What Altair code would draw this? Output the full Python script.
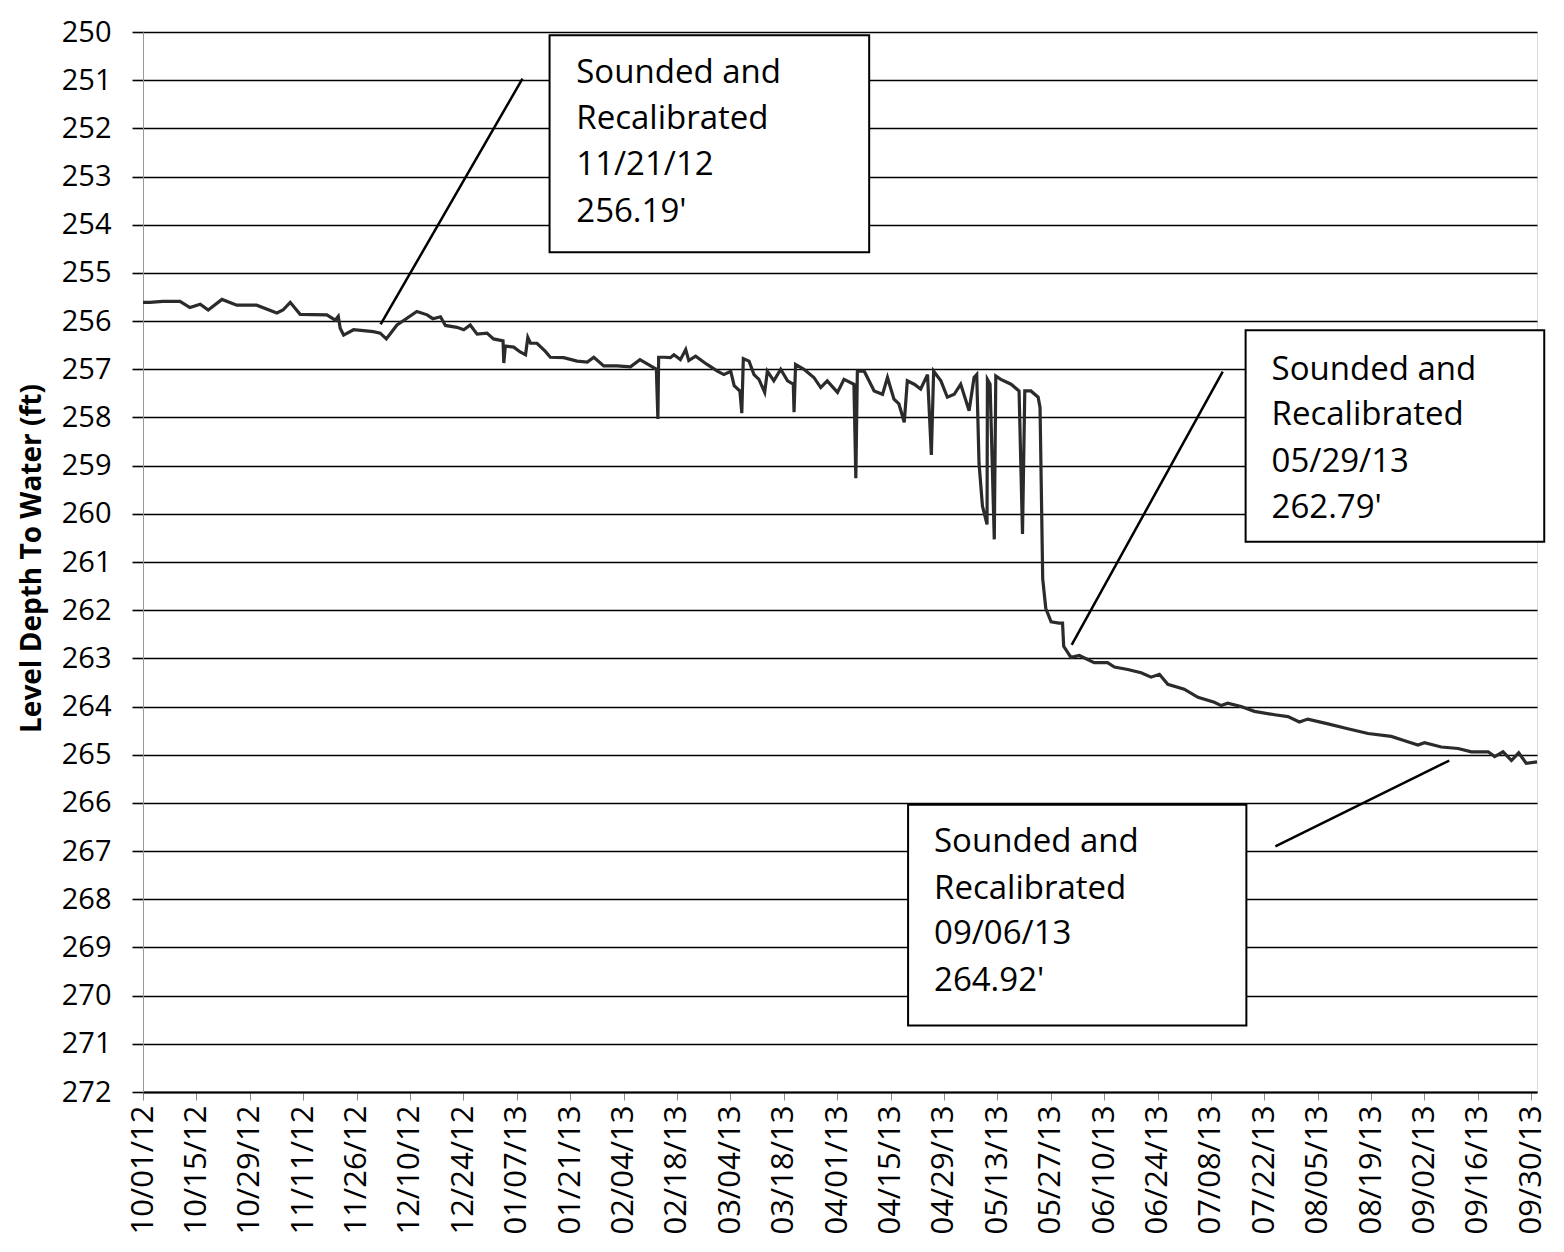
import json
import altair as alt
import pandas as pd

# ---- series: days since 10/01/12 and level depth to water (ft) ----
days = [0.0, 1.8, 5.2, 9.7, 12.3, 15.0, 17.1, 20.7, 24.6, 29.8, 35.1, 36.7, 38.6, 41.2, 48.2,
        50.4, 51.2, 51.7, 52.6, 55.2, 60.4, 62.2, 63.8, 66.6, 69.2, 71.8, 74.5, 76.0, 78.0,
        79.3, 82.3, 84.1, 85.8, 87.6, 90.2, 91.9, 94.4, 94.6, 95.0, 97.2, 98.9, 100.3, 100.9,
        101.6, 103.3, 105.5, 106.8, 110.3, 113.8, 116.5, 118.2, 120.8, 124.3, 127.8, 130.3,
        133.1, 134.6, 135.0, 135.2, 136.6, 138.3, 139.2, 140.9, 142.3, 143.1, 144.9, 147.9,
        150.6, 152.3, 154.1, 155.0, 156.5, 157.0, 157.4, 158.9, 160.2, 161.5, 163.0, 163.7,
        165.4, 167.2, 169.0, 170.5, 170.7, 171.1, 173.3, 175.9, 177.7, 179.4, 182.1, 183.8,
        186.4, 186.9, 187.3, 189.1, 191.7, 193.9, 195.2, 196.9, 198.2, 199.6, 200.4, 202.2,
        203.9, 205.7, 206.7, 207.3, 209.2, 210.9, 212.7, 214.4, 216.6, 217.9, 218.6, 219.2,
        220.1, 221.3, 221.4, 222.1, 223.2, 223.6, 224.9, 227.6, 229.7, 230.6, 231.2, 232.8,
        234.7, 235.2, 235.9, 236.7, 238.1, 240.2, 241.1, 241.4, 243.3, 245.5, 249.4, 252.9,
        254.7, 258.2, 261.7, 264.3, 266.5, 268.7, 273.0, 276.6, 280.9, 282.7, 284.4, 287.9,
        291.4, 296.7, 300.2, 303.2, 305.4, 310.7, 315.9, 321.2, 327.3, 330.8, 334.3, 336.0,
        340.4, 344.8, 348.3, 352.7, 354.4, 356.6, 358.8, 360.7, 362.7, 365.5]
levels = [255.61, 255.61, 255.59, 255.59, 255.72, 255.65, 255.77, 255.55, 255.67, 255.67, 255.83,
          255.77, 255.61, 255.86, 255.87, 255.98, 255.90, 256.15, 256.29, 256.18, 256.22, 256.25,
          256.37, 256.08, 255.94, 255.80, 255.87, 255.95, 255.91, 256.09, 256.13, 256.18, 256.08,
          256.27, 256.25, 256.37, 256.41, 256.87, 256.52, 256.54, 256.64, 256.70, 256.34, 256.46,
          256.46, 256.63, 256.75, 256.76, 256.83, 256.85, 256.75, 256.93, 256.93, 256.95, 256.80,
          256.93, 257.00, 258.03, 256.75, 256.75, 256.76, 256.70, 256.80, 256.59, 256.82, 256.73,
          256.90, 257.04, 257.11, 257.04, 257.34, 257.45, 257.91, 256.78, 256.83, 257.11, 257.21,
          257.48, 257.04, 257.24, 257.00, 257.24, 257.31, 257.89, 256.90, 257.00, 257.17, 257.38,
          257.24, 257.48, 257.21, 257.31, 259.26, 257.04, 257.04, 257.45, 257.52, 257.17, 257.62,
          257.72, 258.10, 257.24, 257.31, 257.41, 257.11, 258.78, 257.04, 257.24, 257.58, 257.52,
          257.31, 257.86, 257.17, 257.11, 258.95, 259.84, 260.22, 257.21, 257.31, 260.53, 257.14,
          257.21, 257.31, 257.45, 260.42, 257.45, 257.45, 257.58, 257.79, 261.35, 261.96, 262.24,
          262.27, 262.27, 262.75, 262.98, 262.94, 263.09, 263.09, 263.18, 263.23, 263.30, 263.39,
          263.33, 263.54, 263.64, 263.81, 263.91, 263.98, 263.93, 264.00, 264.10, 264.17, 264.21,
          264.32, 264.26, 264.36, 264.46, 264.56, 264.62, 264.71, 264.80, 264.75, 264.84, 264.87,
          264.94, 264.94, 265.04, 264.94, 265.12, 264.96, 265.18, 265.15]

tick_days = list(range(0, 365, 14))
tick_labels = ["10/01/12", "10/15/12", "10/29/12", "11/11/12", "11/26/12", "12/10/12", "12/24/12",
               "01/07/13", "01/21/13", "02/04/13", "02/18/13", "03/04/13", "03/18/13", "04/01/13",
               "04/15/13", "04/29/13", "05/13/13", "05/27/13", "06/10/13", "06/24/13", "07/08/13",
               "07/22/13", "08/05/13", "08/19/13", "09/02/13", "09/16/13", "09/30/13"]
y_ticks = list(range(250, 273))

# ---- annotations (data units) ----
box_x = [106.6, 289.1, 200.6]
box_x2 = [190.4, 367.4, 289.3]
box_y = [250.07, 256.19, 266.04]
box_y2 = [254.57, 260.58, 270.62]

note_lines = ["Sounded and", "Recalibrated"]
note_dates = ["11/21/12", "05/29/13", "09/06/13"]
note_levels = ["256.19'", "262.79'", "264.92'"]
note_x = [113.6, 295.9, 207.4]
note_y = [[250.85, 251.80, 252.76, 253.73],
          [257.01, 257.95, 258.92, 259.88],
          [266.82, 267.78, 268.73, 269.69]]

lead_x = [99.5, 283.1, 342.5]
lead_y = [250.97, 257.05, 265.12]
lead_x2 = [62.3, 243.5, 296.9]
lead_y2 = [256.07, 262.72, 266.90]

series = pd.DataFrame({"day": days, "level": levels})
boxes = pd.DataFrame({"x": box_x, "x2": box_x2, "y": box_y, "y2": box_y2})
texts = []
for i in range(3):
    lines = note_lines + [note_dates[i], note_levels[i]]
    for j, t in enumerate(lines):
        texts.append({"x": note_x[i], "y": note_y[i][j], "t": t})
texts = pd.DataFrame(texts)
leads = pd.DataFrame({"x": lead_x, "y": lead_y, "x2": lead_x2, "y2": lead_y2})

FONT = "Open Sans"
label_expr = json.dumps(tick_labels) + "[round(datum.value / 14)]"

xscale = alt.Scale(domain=[0, 365.5], nice=False, zero=False)
yscale = alt.Scale(domain=[250, 272], reverse=True, nice=False, zero=False)

xaxis = alt.Axis(values=tick_days, labelExpr=label_expr, labelAngle=270, labelAlign="right",
                 labelBaseline="middle", labelFontSize=31, labelFont=FONT, labelColor="black",
                 labelPadding=5, labelOverlap=False, labelFlush=False, labelBound=False,
                 tickSize=8, tickColor="#888888", tickWidth=1,
                 domainColor="black", domainWidth=2, grid=False, title=None)
yaxis = alt.Axis(values=y_ticks, grid=True, gridColor="black", gridWidth=1.6,
                 tickColor="black", tickSize=11, tickWidth=1.6,
                 domainColor="#999999", domainWidth=1,
                 labelFontSize=29, labelFont=FONT, labelColor="black", labelPadding=21,
                 labelOverlap=False, labelFlush=False,
                 title="Level Depth To Water (ft)", titleFont=FONT, titleFontSize=28,
                 titleFontWeight="bold", titleColor="black", titleX=-111, titleY=526,
                 titleAngle=270, titleAlign="center", titleBaseline="middle")

line = alt.Chart(series).mark_line(color="#2b2b2b", strokeWidth=3.2).encode(
    x=alt.X("day:Q", scale=xscale, axis=xaxis),
    y=alt.Y("level:Q", scale=yscale, axis=yaxis),
)

lead_rules = alt.Chart(leads).mark_rule(color="black", strokeWidth=2.5).encode(
    x="x:Q", y="y:Q", x2="x2:Q", y2="y2:Q"
)

rects = alt.Chart(boxes).mark_rect(fill="white", stroke="black", strokeWidth=2).encode(
    x="x:Q", x2="x2:Q", y="y:Q", y2="y2:Q"
)

labels = alt.Chart(texts).mark_text(align="left", baseline="middle", font=FONT, fontSize=33,
                                    color="black").encode(
    x="x:Q", y="y:Q", text="t:N"
)

chart = alt.layer(line, lead_rules, rects, labels).properties(
    width=1394, height=1060,
    autosize=alt.AutoSizeParams(type="none"),
    padding={"left": 135, "top": 24, "right": 12, "bottom": 152},
).configure_view(stroke=None).configure(background="white")

chart.save("out.html", embed_options={"renderer": "svg", "actions": False})
